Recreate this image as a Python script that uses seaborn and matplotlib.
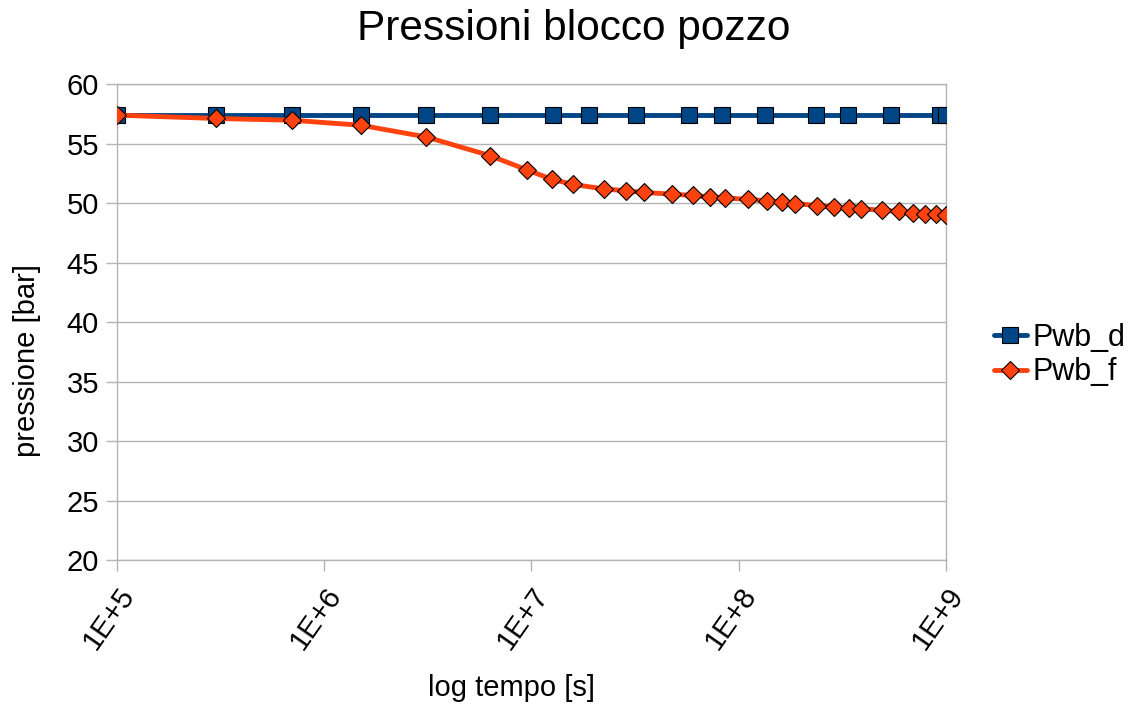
import pandas as pd
import matplotlib.pyplot as plt
from matplotlib.ticker import NullLocator
import seaborn as sns

# tempi [s] e pressioni [bar]
tempo_d = [1e5, 3.0e5, 7.0e5, 1.5e6, 3.1e6, 6.3e6, 1.27e7, 1.89e7, 3.19e7, 5.76e7,
           8.3e7, 1.34e8, 2.36e8, 3.37e8, 5.43e8, 9.35e8, 1e9]
pwb_d = [57.4] * len(tempo_d)

tempo_f = [1e5, 3.0e5, 7.0e5, 1.5e6, 3.1e6, 6.3e6, 9.5e6, 1.26e7, 1.59e7, 2.24e7,
           2.86e7, 3.49e7, 4.76e7, 6.0e7, 7.26e7, 8.59e7, 1.11e8, 1.37e8, 1.62e8,
           1.87e8, 2.39e8, 2.88e8, 3.41e8, 3.89e8, 4.91e8, 5.93e8, 6.93e8, 7.92e8,
           8.95e8, 1e9]
pwb_f = [57.4, 57.12, 56.97, 56.55, 55.57, 54.0, 52.8, 51.99, 51.57, 51.2,
         51.04, 50.9, 50.76, 50.65, 50.53, 50.45, 50.31, 50.2, 50.06, 49.97,
         49.8, 49.69, 49.58, 49.52, 49.41, 49.3, 49.19, 49.13, 49.05, 48.97]

xticks = [1e5, 1e6, 1e7, 1e8, 1e9]
xlabels = ["1E+5", "1E+6", "1E+7", "1E+8", "1E+9"]
yticks = [20, 25, 30, 35, 40, 45, 50, 55, 60]

df_d = pd.DataFrame({"tempo": tempo_d, "pressione": pwb_d})
df_f = pd.DataFrame({"tempo": tempo_f, "pressione": pwb_f})

sns.set_style("white")
plt.rcParams['font.family'] = ['Liberation Sans', 'DejaVu Sans']
plt.rcParams['text.color'] = 'black'
plt.rcParams['xtick.color'] = 'black'
plt.rcParams['ytick.color'] = 'black'
plt.rcParams['axes.labelcolor'] = 'black'

fig = plt.figure(figsize=(11.29, 7.07), dpi=100)
ax = fig.add_axes([0.1036, 0.2079, 0.7343, 0.6730])

sns.lineplot(data=df_d, x="tempo", y="pressione", ax=ax, color="#004586",
             linewidth=3.5, marker="s", markersize=12, markeredgecolor="black",
             markeredgewidth=0.8, label="Pwb_d", zorder=3)
sns.lineplot(data=df_f, x="tempo", y="pressione", ax=ax, color="#ff420e",
             linewidth=3.5, marker="D", markersize=9.5, markeredgecolor="black",
             markeredgewidth=0.8, label="Pwb_f", zorder=4)

ax.set_xscale("log")
ax.set_xlim(1e5, 1e9)
ax.set_ylim(20, 60)
ax.set_xticks(xticks)
ax.set_xticklabels(xlabels, rotation=55, ha="right", va="top",
                   rotation_mode="anchor", fontsize=21)
ax.xaxis.set_minor_locator(NullLocator())
ax.set_yticks(yticks)

# griglia orizzontale grigia come nell'originale
ax.yaxis.grid(True, color="#b3b3b3", linewidth=1)
ax.xaxis.grid(False)
for s in ax.spines.values():
    s.set_color("#b3b3b3")
    s.set_linewidth(1)
ax.tick_params(axis="both", which="major", length=8, width=1, color="#b3b3b3",
               labelcolor="black", pad=5, direction="out")
ax.tick_params(axis="y", left=True, labelsize=21)
ax.tick_params(axis="x", bottom=True, pad=8)

ax.set_title("Pressioni blocco pozzo", fontsize=30.5, pad=32, x=0.551)
ax.set_xlabel("log tempo [s]", fontsize=21)
ax.set_ylabel("pressione [bar]", fontsize=21)
ax.xaxis.set_label_coords(0.476, -0.24)
ax.yaxis.set_label_coords(-0.092, 0.42)

# legenda fuori dal grafico, a destra
ax.legend(loc="center left", bbox_to_anchor=(0.880, 0.498),
          bbox_transform=fig.transFigure, frameon=False, fontsize=22,
          handlelength=1.1, handletextpad=0.17, borderaxespad=0, borderpad=0,
          labelspacing=0.15)

fig.savefig("out.png", dpi=100)
